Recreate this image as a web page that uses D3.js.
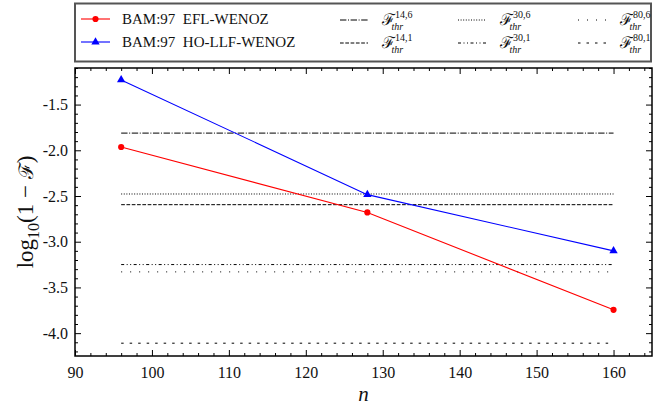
<!DOCTYPE html>
<meta charset="utf-8">
<script src="https://d3js.org/d3.v7.min.js"></script>
<style>
  body { margin: 0; background: #fff; }
  text { font-family: "Liberation Serif", "DejaVu Serif", serif; fill: #111; }
</style>
<body>
<div id="my_dataviz"></div>
</body>
<script>

// data
var nValues = [96, 128, 160];
var eflWenoz = [-1.964, -2.68, -3.745];
var hoLlfWenoz = [-1.23, -2.485, -3.10];

var thrNames = ["14,6", "14,1", "30,6", "30,1", "80,6", "80,1"];
var thrValues = [-1.812, -2.595, -2.478, -3.25, -3.33, -4.11];
var thrDash = ["6.4,1.6,1,1.6", "3.7,1.6", "1,1.6", "3,2.5,1,2.5,1,2.5", "1,8", "2.5,6"];

var xTicks = [90, 100, 110, 120, 130, 140, 150, 160];
var yTicks = [-4.0, -3.5, -3.0, -2.5, -2.0, -1.5];

var W = 654, H = 409;
var pLeft = 75, pRight = 652, pTop = 68, pBottom = 356;

var svg = d3.select("#my_dataviz")
  .append("svg")
    .attr("width", W)
    .attr("height", H);

var x = d3.scaleLinear().domain([90, 165]).range([pLeft, pRight]);
var y = d3.scaleLinear().domain([-4.25, -1.10]).range([pBottom, pTop]);

// threshold lines
svg.selectAll(".thr")
  .data(thrValues)
  .enter()
  .append("line")
    .attr("x1", x(nValues[0]))
    .attr("x2", x(nValues[2]))
    .attr("y1", function(d) { return y(d); })
    .attr("y2", function(d) { return y(d); })
    .attr("stroke", "#000")
    .attr("stroke-width", 1)
    .attr("stroke-dasharray", function(d, i) { return thrDash[i]; });

// series
var line = d3.line()
  .x(function(d, i) { return x(nValues[i]); })
  .y(function(d) { return y(d); });

svg.append("path")
  .datum(eflWenoz)
  .attr("d", line)
  .attr("fill", "none")
  .attr("stroke", "red")
  .attr("stroke-width", 1.1);

svg.append("path")
  .datum(hoLlfWenoz)
  .attr("d", line)
  .attr("fill", "none")
  .attr("stroke", "blue")
  .attr("stroke-width", 1.1);

var circ = d3.symbol().type(d3.symbolCircle).size(30);
var tri = d3.symbol().type(d3.symbolTriangle).size(30);

svg.selectAll(".redpt")
  .data(eflWenoz)
  .enter()
  .append("path")
    .attr("d", circ)
    .attr("fill", "red")
    .attr("transform", function(d, i) { return "translate(" + x(nValues[i]) + "," + y(d) + ")"; });

svg.selectAll(".bluept")
  .data(hoLlfWenoz)
  .enter()
  .append("path")
    .attr("d", tri)
    .attr("fill", "blue")
    .attr("transform", function(d, i) { return "translate(" + x(nValues[i]) + "," + y(d) + ")"; });

// axes, ticks pointing inward on all four sides
var fmtY = function(d) { return d3.format(".1f")(d).replace("\u2212", "-"); };
var xMinor = d3.range(90, 166, 2).filter(function(d) { return d % 10 != 0; });
var yMinor = d3.range(-42, -10, 1).map(function(d) { return d / 10; }).filter(function(d) { return Math.round(d * 10) % 5 != 0; });

function styleAxis(g) {
  g.select(".domain").remove();
  g.selectAll("line").attr("stroke", "#000").attr("stroke-width", 1);
  g.selectAll("text").style("font-size", "16px");
}

svg.append("g")
  .attr("transform", "translate(0," + pBottom + ")")
  .call(d3.axisBottom(x).tickValues(xTicks).tickSize(-6).tickPadding(11).tickFormat(d3.format("d")))
  .call(styleAxis);
svg.append("g")
  .attr("transform", "translate(0," + pBottom + ")")
  .call(d3.axisBottom(x).tickValues(xMinor).tickSize(-3).tickFormat(""))
  .call(styleAxis);
svg.append("g")
  .attr("transform", "translate(0," + pTop + ")")
  .call(d3.axisTop(x).tickValues(xTicks).tickSize(-6).tickFormat(""))
  .call(styleAxis);
svg.append("g")
  .attr("transform", "translate(0," + pTop + ")")
  .call(d3.axisTop(x).tickValues(xMinor).tickSize(-3).tickFormat(""))
  .call(styleAxis);

svg.append("g")
  .attr("transform", "translate(" + pLeft + ",0)")
  .call(d3.axisLeft(y).tickValues(yTicks).tickSize(-6).tickPadding(7).tickFormat(fmtY))
  .call(styleAxis);
svg.append("g")
  .attr("transform", "translate(" + pLeft + ",0)")
  .call(d3.axisLeft(y).tickValues(yMinor).tickSize(-3).tickFormat(""))
  .call(styleAxis);
svg.append("g")
  .attr("transform", "translate(" + pRight + ",0)")
  .call(d3.axisRight(y).tickValues(yTicks).tickSize(-6).tickFormat(""))
  .call(styleAxis);
svg.append("g")
  .attr("transform", "translate(" + pRight + ",0)")
  .call(d3.axisRight(y).tickValues(yMinor).tickSize(-3).tickFormat(""))
  .call(styleAxis);

svg.append("rect")
  .attr("x", pLeft)
  .attr("y", pTop)
  .attr("width", pRight - pLeft)
  .attr("height", pBottom - pTop)
  .attr("fill", "none")
  .attr("stroke", "#000")
  .attr("stroke-width", 1.5);

// axis labels
svg.append("text")
  .attr("x", (pLeft + pRight) / 2)
  .attr("y", 401)
  .attr("text-anchor", "middle")
  .style("font-size", "21px")
  .style("font-style", "italic")
  .text("n");

var yl = svg.append("text")
  .attr("transform", "translate(33," + ((pTop + pBottom) / 2) + ") rotate(-90)")
  .attr("text-anchor", "middle")
  .style("font-size", "23px");
yl.append("tspan").text("log");
yl.append("tspan").attr("dy", 6).style("font-size", "16px").text("10");
yl.append("tspan").attr("dy", -6).text("(1 \u2212 ");
yl.append("tspan").style("font-family", "DejaVu Serif").style("font-size", "20px").text("\u2131");
yl.append("tspan").text(")");

// legend
var lg = svg.append("g");
lg.append("rect")
  .attr("x", 75)
  .attr("y", 3.5)
  .attr("width", 576)
  .attr("height", 58)
  .attr("fill", "#fff")
  .attr("stroke", "#555")
  .attr("stroke-width", 2);

var seriesNames = ["BAM:97  EFL-WENOZ", "BAM:97  HO-LLF-WENOZ"];
var seriesColors = ["red", "blue"];
var seriesSym = [circ, tri];
var rowY = [19, 42];

seriesNames.forEach(function(name, i) {
  lg.append("line")
    .attr("x1", 81).attr("x2", 110)
    .attr("y1", rowY[i]).attr("y2", rowY[i])
    .attr("stroke", seriesColors[i]).attr("stroke-width", 1.1);
  lg.append("path")
    .attr("d", seriesSym[i])
    .attr("fill", seriesColors[i])
    .attr("transform", "translate(95.5," + rowY[i] + ")");
  lg.append("text")
    .attr("x", 122)
    .attr("y", rowY[i] + 5)
    .attr("xml:space", "preserve")
    .style("white-space", "pre")
    .style("font-size", "15px")
    .text(name);
});

var colX = [340, 458, 578];
thrNames.forEach(function(name, i) {
  var col = Math.floor(i / 2), row = i % 2;
  var lx = colX[col], ly = rowY[row] + 1;
  lg.append("line")
    .attr("x1", lx).attr("x2", lx + 28)
    .attr("y1", ly).attr("y2", ly)
    .attr("stroke", "#000").attr("stroke-width", 1)
    .attr("stroke-dasharray", thrDash[i]);
  var t = lg.append("text")
    .attr("x", lx + 42)
    .attr("y", ly + 5)
    .style("font-size", "16px");
  t.append("tspan").style("font-family", "DejaVu Serif").text("\u2131");
  t.append("tspan").attr("dy", -7).style("font-size", "10px").text(name);
  t.append("tspan").attr("dx", -21).attr("dy", 12).style("font-size", "10px").style("font-style", "italic").text("thr");
});

</script>
